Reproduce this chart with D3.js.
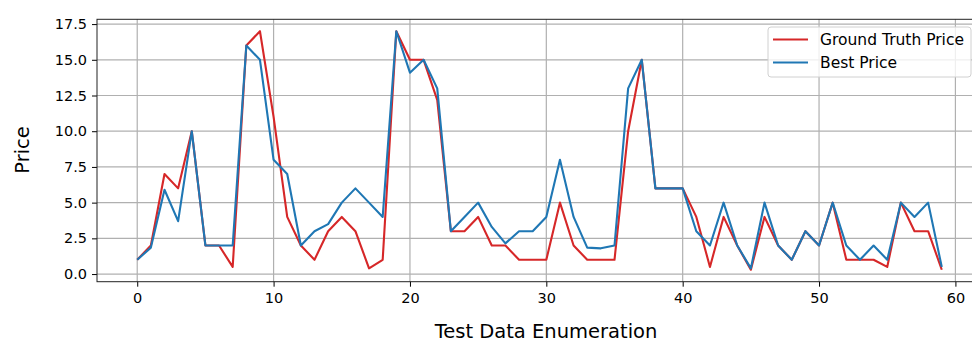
<!DOCTYPE html>
<html>
<head>
<meta charset="utf-8">
<script src="https://cdn.jsdelivr.net/npm/d3@7"></script>
<style>
  body { margin: 0; background: #fff; }
  svg { display: block; font-family: "DejaVu Sans", sans-serif; }
</style>
</head>
<body>
<svg id="chart" width="972" height="343"></svg>
<script>
'use strict';

// ground truth vs predicted price, one point per test sample
const groundTruth = [
  1, 2, 7, 6, 10, 2, 2, 0.5, 16, 17,
  11, 4, 2, 1, 3, 4, 3, 0.4, 1, 17,
  15, 15, 12.2, 3, 3, 4, 2, 2, 1, 1,
  1, 5, 2, 1, 1, 1, 10, 15, 6, 6,
  6, 4, 0.5, 4, 2, 0.3, 4, 2, 1, 3,
  2, 5, 1, 1, 1, 0.5, 5, 3, 3, 0.3
];
const bestPrice = [
  1, 1.85, 5.9, 3.7, 10, 2, 2, 2, 16, 15,
  8, 7, 2, 3, 3.5, 5, 6, 5, 4, 17,
  14.1, 15, 13, 3, 4, 5, 3.3, 2.15, 3, 3,
  4, 8, 4, 1.85, 1.8, 2, 13, 15, 6, 6,
  6, 3, 2, 5, 2, 0.4, 5, 2, 1, 3,
  2, 5, 2, 1, 2, 1, 5, 4, 5, 0.5
];
const yTicks = [0, 2.5, 5, 7.5, 10, 12.5, 15, 17.5];
const xTicks = [0, 10, 20, 30, 40, 50, 60];
const seriesNames = ['Ground Truth Price', 'Best Price'];
const seriesColors = ['#d62728', '#1f77b4'];

const LEFT = 97, RIGHT = 982, TOP = 19.3, BOTTOM = 281.7;

let svg = d3.select('#chart');

let x = d3.scaleLinear().domain([-2.95, 61.95]).range([LEFT, RIGHT]);
let y = d3.scaleLinear().domain([-0.535, 17.835]).range([BOTTOM, TOP]);

// grid
let grid = svg.append('g');
grid.selectAll('.gx')
  .data(xTicks)
  .enter().append('line')
    .attr('x1', function(d) { return x(d); })
    .attr('x2', function(d) { return x(d); })
    .attr('y1', TOP).attr('y2', BOTTOM)
    .attr('stroke', '#b0b0b0').attr('stroke-width', 1.2);
grid.selectAll('.gy')
  .data(yTicks)
  .enter().append('line')
    .attr('x1', LEFT).attr('x2', RIGHT)
    .attr('y1', function(d) { return y(d); })
    .attr('y2', function(d) { return y(d); })
    .attr('stroke', '#b0b0b0').attr('stroke-width', 1.2);

// lines
let line = d3.line()
  .x(function(d, i) { return x(i); })
  .y(function(d) { return y(d); });

[groundTruth, bestPrice].forEach(function(data, k) {
  svg.append('path')
    .datum(data)
    .attr('d', line)
    .attr('fill', 'none')
    .attr('stroke', seriesColors[k])
    .attr('stroke-width', 2.1)
    .attr('stroke-linejoin', 'round');
});

// axes
let xAxis = svg.append('g')
  .attr('transform', 'translate(0,' + BOTTOM + ')')
  .call(d3.axisBottom(x).tickValues(xTicks).tickSize(5).tickPadding(6)
    .tickFormat(d3.format('d')));
let yAxis = svg.append('g')
  .attr('transform', 'translate(' + LEFT + ',0)')
  .call(d3.axisLeft(y).tickValues(yTicks).tickSize(5).tickPadding(5)
    .tickFormat(d3.format('.1f')));

[xAxis, yAxis].forEach(function(a) {
  a.select('.domain').remove();
  a.selectAll('text').attr('font-size', 14.5).attr('fill', '#000')
    .attr('font-family', '"DejaVu Sans", sans-serif');
  a.selectAll('line').attr('stroke', '#000').attr('stroke-width', 1);
});

// spines
svg.append('rect')
  .attr('x', LEFT).attr('y', TOP)
  .attr('width', RIGHT - LEFT).attr('height', BOTTOM - TOP)
  .attr('fill', 'none').attr('stroke', '#222').attr('stroke-width', 1);

// axis labels
svg.append('text')
  .attr('x', 546).attr('y', 338)
  .attr('text-anchor', 'middle')
  .attr('font-size', 19.5)
  .text('Test Data Enumeration');
svg.append('text')
  .attr('transform', 'translate(29,150) rotate(-90)')
  .attr('text-anchor', 'middle')
  .attr('font-size', 19.5)
  .text('Price');

// legend
let legend = svg.append('g');
legend.append('rect')
  .attr('x', 768).attr('y', 27)
  .attr('width', 203).attr('height', 50)
  .attr('rx', 3)
  .attr('fill', 'rgba(255,255,255,0.8)')
  .attr('stroke', '#d0d0d0');
seriesNames.forEach(function(name, k) {
  let cy = 39.5 + k * 23;
  legend.append('line')
    .attr('x1', 773).attr('x2', 808)
    .attr('y1', cy).attr('y2', cy)
    .attr('stroke', seriesColors[k]).attr('stroke-width', 2.1);
  legend.append('text')
    .attr('x', 820).attr('y', cy)
    .attr('dy', '0.35em')
    .attr('font-size', 15.5)
    .text(name);
});
</script>
</body>
</html>
